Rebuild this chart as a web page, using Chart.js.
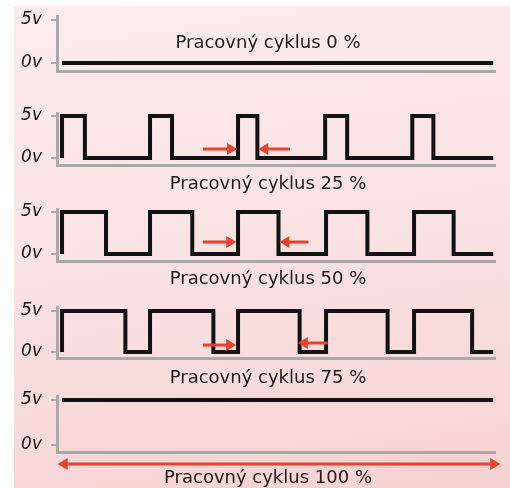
<!DOCTYPE html>
<html>
<head>
<meta charset="utf-8">
<script src="https://cdn.jsdelivr.net/npm/chart.js@4.4.0/dist/chart.umd.min.js"></script>
<style>
  html, body { margin: 0; padding: 0; width: 510px; height: 488px; overflow: hidden; background: #fff; }
  #bg { position: absolute; left: 14px; top: 6px; width: 496px; height: 482px;
        background: linear-gradient(172deg, #fcecec 0%, #f9e2e2 50%, #f6d2d2 100%); }
  canvas { position: absolute; left: 0; }
</style>
</head>
<body>
<div id="bg"></div>
<canvas id="p0" width="510"></canvas>
<canvas id="p25" width="510"></canvas>
<canvas id="p50" width="510"></canvas>
<canvas id="p75" width="510"></canvas>
<canvas id="p100" width="510"></canvas>
<script>
// y ticks
const voltTicks = [0, 5];

// edge times (in periods) and the level the signal jumps to there
const edges0 = [0, 4.9];
const levels0 = [0, 0];

const edges25 = [0, 0, 0.26, 1, 1.25, 2, 2.22, 2.99, 3.24, 3.98, 4.22, 4.9];
const levels25 = [0, 5, 0, 5, 0, 5, 0, 5, 0, 5, 0, 0];

const edges50 = [0, 0, 0.5, 1, 1.48, 2, 2.46, 3, 3.47, 4, 4.45, 4.9];
const levels50 = [0, 5, 0, 5, 0, 5, 0, 5, 0, 5, 0, 0];

const edges75 = [0, 0, 0.72, 1, 1.72, 2, 2.7, 3, 3.7, 4, 4.66, 4.9];
const levels75 = [0, 5, 0, 5, 0, 5, 0, 5, 0, 5, 0, 0];

const edges100 = [0, 4.9];
const levels100 = [5, 5];

const captions = ['Pracovný cyklus 0 %', 'Pracovný cyklus 25 %', 'Pracovný cyklus 50 %',
                  'Pracovný cyklus 75 %', 'Pracovný cyklus 100 %'];

// red arrows: [from, to, level, doubleHeaded]
const arrows25 = [[1.6, 1.99, 1.07], [2.59, 2.23, 1.07]];
const arrows50 = [[1.6, 1.98, 1.43], [2.8, 2.47, 1.43]];
const arrows75 = [[1.6, 1.98, 0.85], [3.02, 2.68, 1.1]];
const arrows100 = [[-0.05, 4.98, -2.1, true]];

function captionPlugin(text, dy) {
  return {
    id: 'caption',
    afterDraw(chart) {
      const { ctx, chartArea } = chart;
      ctx.save();
      ctx.font = '18px "DejaVu Sans"';
      ctx.fillStyle = '#1c1c1c';
      ctx.textAlign = 'center';
      ctx.textBaseline = 'alphabetic';
      ctx.fillText(text, chartArea.left + 211, chartArea.bottom + dy);
      ctx.restore();
    }
  };
}

function arrowPlugin(list) {
  return {
    id: 'arrows',
    afterDatasetsDraw(chart) {
      const { ctx, scales: { x, y } } = chart;
      ctx.save();
      ctx.strokeStyle = ctx.fillStyle = '#e5432d';
      ctx.lineWidth = 3;
      const head = (px, py, dir) => {
        ctx.beginPath();
        ctx.moveTo(px, py);
        ctx.lineTo(px - dir * 10, py - 6);
        ctx.lineTo(px - dir * 10, py + 6);
        ctx.closePath();
        ctx.fill();
      };
      list.forEach(a => {
        const x1 = x.getPixelForValue(a[0]);
        const x2 = x.getPixelForValue(a[1]);
        const py = y.getPixelForValue(a[2]);
        const dir = Math.sign(x2 - x1);
        ctx.beginPath();
        ctx.moveTo(x1 + (a[3] ? dir * 8 : 0), py);
        ctx.lineTo(x2 - dir * 8, py);
        ctx.stroke();
        head(x2, py, dir);
        if (a[3]) head(x1, py, -dir);
      });
      ctx.restore();
    }
  };
}

function makePanel(id, edges, levels, caption, arrows, top, bottom, yMin, yMax, capDy) {
  const pad = 12, below = 36;
  const cv = document.getElementById(id);
  cv.style.top = (top - pad) + 'px';
  cv.height = bottom - top + pad + below;
  new Chart(cv, {
    type: 'line',
    data: {
      datasets: [{
        data: edges.map((x, i) => ({ x: x, y: levels[i] })),
        borderColor: '#121212',
        borderWidth: 4,
        stepped: true,
        pointRadius: 0,
        borderJoinStyle: 'miter',
        borderCapStyle: 'butt',
        fill: false
      }]
    },
    options: {
      responsive: false,
      animation: false,
      events: [],
      layout: { padding: { top: pad, bottom: below, left: 0, right: 15 } },
      scales: {
        x: {
          type: 'linear', min: -0.057, max: 4.92,
          grid: { display: false },
          ticks: { display: false },
          border: { color: '#a9a9a9', width: 3 },
          afterFit: s => { s.height = 0; s.paddingLeft = 0; s.paddingRight = 0; }
        },
        y: {
          min: yMin, max: yMax,
          afterBuildTicks: s => { s.ticks = voltTicks.map(v => ({ value: v })); },
          ticks: {
            callback: v => v + 'v',
            font: { family: 'DejaVu Sans', size: 17, style: 'italic' },
            color: '#111',
            padding: 9
          },
          grid: { drawOnChartArea: false, tickLength: 6, color: '#a9a9a9', lineWidth: 2 },
          border: { color: '#a9a9a9', width: 3 },
          afterFit: s => { s.width = 57; s.paddingTop = 0; s.paddingBottom = 0; }
        }
      },
      plugins: { legend: { display: false }, tooltip: { enabled: false } }
    },
    plugins: [captionPlugin(caption, capDy), arrowPlugin(arrows)]
  });
}

makePanel('p0', edges0, levels0, captions[0], [], 16, 71, -0.93, 5.47, -23);
makePanel('p25', edges25, levels25, captions[1], arrows25, 113, 165, -0.83, 5.36, 24);
makePanel('p50', edges50, levels50, captions[2], arrows50, 209, 261, -0.83, 5.36, 23);
makePanel('p75', edges75, levels75, captions[3], arrows75, 307, 358, -0.73, 5.49, 25);
makePanel('p100', edges100, levels100, captions[4], arrows100, 396, 452, -0.78, 5.44, 31);
</script>
</body>
</html>
